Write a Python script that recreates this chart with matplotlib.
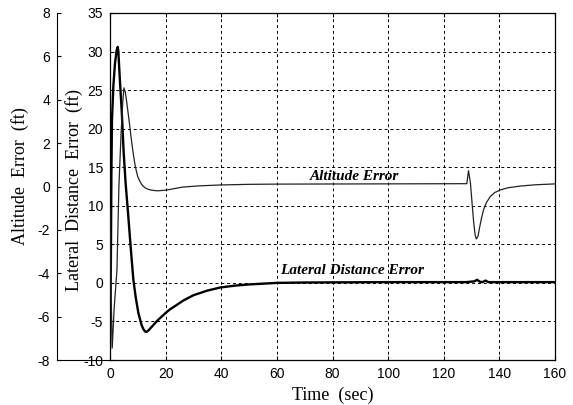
import numpy as np
import matplotlib
matplotlib.use("Agg")
import matplotlib.pyplot as plt

plt.rcParams['axes.unicode_minus'] = False

# lateral distance error (ft), thick curve
t_lat = [0, 0.3, 0.5, 0.7, 1.2, 1.8, 2.4, 2.8, 3.0, 3.6, 4.2, 4.9, 5.6, 6.5, 7.4,
         8.4, 9.3, 10.2, 11.3, 12.0, 12.6, 13.2, 14, 15, 16, 17, 18.5, 20, 21.5,
         23.4, 26.3, 30, 35, 39.6, 45, 50, 55, 60, 70, 100, 128, 131, 132, 133,
         134, 135, 136, 160]
lat = [-8.5, 2, 14, 21, 25.5, 28.5, 30.2, 30.6, 30.0, 26, 22.4, 17, 13, 9, 4.8,
       0.4, -2.0, -3.9, -5.4, -6.0, -6.3, -6.35, -6.1, -5.7, -5.3, -4.9, -4.4, -3.9, -3.45,
       -3.0, -2.3, -1.6, -1.0, -0.6, -0.35, -0.2, -0.1, 0.0, 0.05, 0.1, 0.1, 0.2, 0.4, 0.15,
       0.1, 0.3, 0.1, 0.1]

# altitude error (ft), thin curve
t_alt = [0, 0.4, 0.8, 1.5, 2.5, 3.2, 4.0, 4.6, 5.0, 5.5, 6.0, 6.5, 7.0, 7.5, 8.0,
         8.5, 9.0, 9.5, 10.0, 10.7, 11.5, 12.5, 13.5, 15, 17, 20, 26, 32, 39.6,
         50, 60, 128.3, 128.9, 129.6, 130.2, 130.8, 131.3, 131.7, 132.3, 132.8, 133.5,
         134.3, 135.3, 136.7, 138.3, 140.3, 143, 147.5, 153, 160]
alt = [-1.0, -5.0, -7.45, -5.6, -3.85, 0.0, 2.5, 3.9, 4.55, 4.35, 3.9, 3.4, 2.9, 2.35, 1.85,
       1.4, 1.0, 0.7, 0.45, 0.25, 0.07, -0.05, -0.12, -0.17, -0.2, -0.17, -0.03, 0.03, 0.07,
       0.1, 0.11, 0.13, 0.73, 0.15, -0.8, -1.7, -2.25, -2.42, -2.3, -1.95, -1.5,
       -1.08, -0.75, -0.47, -0.28, -0.16, -0.06, 0.02, 0.08, 0.12]

x_ticks = np.arange(0, 161, 20)
lat_ticks = np.arange(-10, 36, 5)
alt_ticks = np.arange(-8, 9, 2)

tick_font = ['Liberation Sans Narrow', 'Liberation Sans']
serif = 'Liberation Serif'

fig = plt.figure(figsize=(5.73, 4.05), dpi=100)
b = 45 / 405
h = 347 / 405
ax = fig.add_axes([110 / 573, b, 445 / 573, h])

ax.plot(t_lat, lat, color='black', lw=1.7)
ax.set_xlim(0, 160)
ax.set_ylim(-10, 35)
ax.set_xticks(x_ticks)
ax.set_yticks(lat_ticks)
ax.grid(True, color='black', linestyle=(0, (3, 3)), lw=0.7)
ax.tick_params(direction='in', length=3, width=0.8, top=True, right=True,
               labelsize=10, pad=5)
for lab in ax.get_xticklabels() + ax.get_yticklabels():
    lab.set_family(tick_font)
for s in ax.spines.values():
    s.set_linewidth(0.9)

ax.set_xlabel("Time  (sec)", family=serif, fontsize=13, labelpad=4)
ax.set_ylabel("Lateral  Distance  Error  (ft)", family=serif, fontsize=13)
ax.yaxis.set_label_coords(-27 / 445, 0.49)

# altitude on its own scale, drawn inside the same box
ax_alt = ax.twinx()
ax_alt.plot(t_alt, alt, color='#222222', lw=0.9)
ax_alt.set_ylim(-8, 8)
ax_alt.yaxis.set_visible(False)
for s in ax_alt.spines.values():
    s.set_visible(False)

ax.text(72, 13.35, "Altitude Error", family=serif, fontsize=11,
        fontweight='bold', style='italic', va='baseline')
ax.text(61, 1.15, "Lateral Distance Error", family=serif, fontsize=11,
        fontweight='bold', style='italic', va='baseline')

# outer altitude axis on the left
ax_out = fig.add_axes([57 / 573, b, 53 / 573, h])
ax_out.set_facecolor('none')
ax_out.set_ylim(-8, 8)
ax_out.set_yticks(alt_ticks)
ax_out.set_xticks([])
ax_out.spines['top'].set_visible(False)
ax_out.spines['right'].set_visible(False)
ax_out.tick_params(direction='in', length=3, width=0.8, labelsize=10, pad=5)
for lab in ax_out.get_yticklabels():
    lab.set_family(tick_font)
ax_out.set_ylabel("Altitude  Error  (ft)", family=serif, fontsize=13)
ax_out.yaxis.set_label_coords(-28 / 53, 0.53)

fig.savefig("out.png", dpi=100)
